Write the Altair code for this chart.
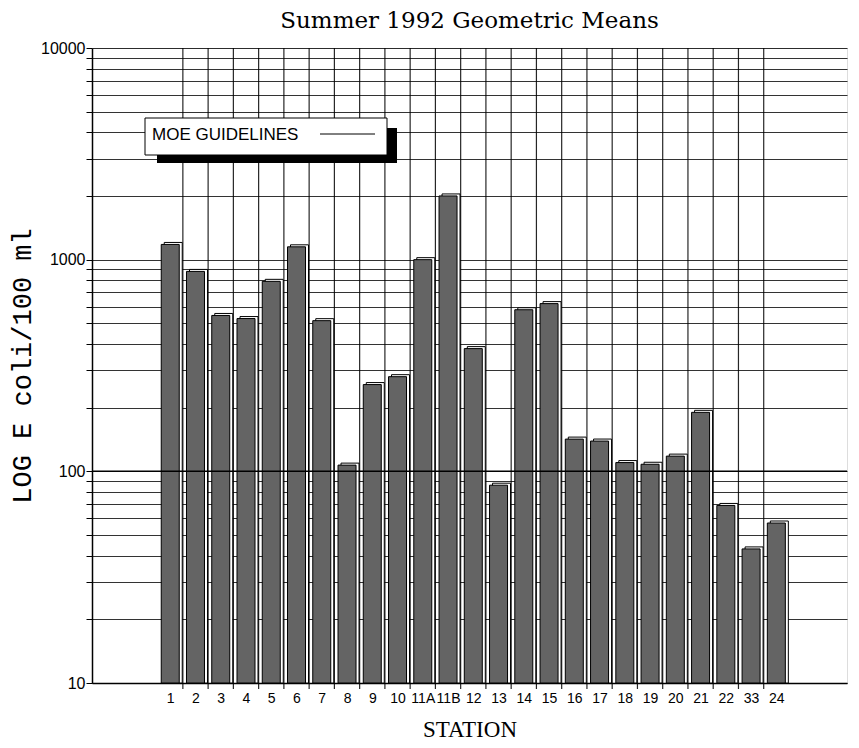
import altair as alt
import pandas as pd

stations = ["1", "2", "3", "4", "5", "6", "7", "8", "9", "10", "11A", "11B", "12",
            "13", "14", "15", "16", "17", "18", "19", "20", "21", "22", "33", "24"]
geo_means = [1180, 880, 545, 527, 790, 1150, 515, 107, 257, 280, 1000, 2000, 380,
             86, 580, 620, 142, 139, 110, 108, 118, 190, 69, 43, 57]
guideline = [100]
legend_label = ["MOE GUIDELINES"]
y_tick_values = [10, 20, 30, 40, 50, 60, 70, 80, 90,
                 100, 200, 300, 400, 500, 600, 700, 800, 900,
                 1000, 2000, 3000, 4000, 5000, 6000, 7000, 8000, 9000, 10000]
y_label_values = [10, 100, 1000, 10000]

df = pd.DataFrame({"station": stations, "idx": list(range(len(stations))),
                   "value": geo_means, "base": [10] * len(stations)})
bounds = pd.DataFrame({"b": [i + 0.5 for i in range(len(stations) - 1)]})
guide_df = pd.DataFrame({"g": guideline, "name": legend_label})

W, H = 755, 635
SERIF = "Liberation Serif"
SANS = "Liberation Sans"
MONO = "Liberation Mono"

xscale = alt.Scale(domain=[-2.9, 26.6], nice=False, zero=False)
yscale = alt.Scale(type="log", domain=[10, 10000], nice=False)

label_expr = "[" + ",".join("'" + s + "'" for s in stations) + "][datum.value]"
ylab_expr = ("indexof([" + ",".join(str(v) for v in y_label_values) +
             "], datum.value) >= 0 ? format(datum.value, 'd') : ''")

x_axis = alt.Axis(values=list(range(len(stations))), labelExpr=label_expr, ticks=False,
                  grid=False, title="STATION", titleFont=SERIF, titleFontSize=23,
                  titleFontWeight="normal", titleColor="black", titlePadding=13,
                  labelFont=SANS, labelFontSize=14, labelColor="black", labelPadding=8,
                  labelOverlap=False, domainColor="black", domainWidth=1.5)
y_axis = alt.Axis(values=y_tick_values, labelExpr=ylab_expr, tickSize=6, tickColor="black",
                  grid=True, gridColor="black", gridOpacity=0.8, gridWidth=1.2,
                  domainColor="black", domainWidth=1.5, labelFont=SANS, labelFontSize=16,
                  labelColor="black", labelPadding=1, title="LOG E coli/100 ml", titleFont=MONO,
                  titleFontSize=27, titleFontWeight="normal", titleColor="black",
                  titlePadding=4)

vgrid = alt.Chart(bounds).mark_rule(color="black", strokeWidth=1.2, opacity=0.85).encode(
    x=alt.X("b:Q", scale=xscale, axis=x_axis),
    y=alt.value(0), y2=alt.value(H + 6))

back = alt.Chart(df).mark_bar(size=18, fill="white", stroke="black", strokeWidth=1,
                              xOffset=3, yOffset=-2).encode(
    x=alt.X("idx:Q", scale=xscale, axis=x_axis),
    y=alt.Y("value:Q", scale=yscale, axis=y_axis),
    y2="base:Q")

front = alt.Chart(df).mark_bar(size=18, fill="#646464", stroke="black", strokeWidth=1).encode(
    x=alt.X("idx:Q", scale=xscale, axis=x_axis),
    y=alt.Y("value:Q", scale=yscale, axis=y_axis),
    y2="base:Q")

guide_rule = alt.Chart(guide_df).mark_rule(color="black", strokeWidth=1.5).encode(
    y=alt.Y("g:Q", scale=yscale, axis=y_axis))

shadow = alt.Chart(guide_df).mark_rect(fill="black").encode(
    x=alt.value(65), x2=alt.value(305), y=alt.value(80), y2=alt.value(115))
box = alt.Chart(guide_df).mark_rect(fill="white", stroke="black", strokeWidth=1).encode(
    x=alt.value(53), x2=alt.value(295), y=alt.value(70), y2=alt.value(107))
box_text = alt.Chart(guide_df).mark_text(align="left", baseline="middle", font=SANS,
                                         fontSize=17, color="black").encode(
    x=alt.value(60), y=alt.value(87), text="name:N")
box_line = alt.Chart(guide_df).mark_rule(color="black", strokeWidth=1).encode(
    x=alt.value(228), x2=alt.value(283), y=alt.value(86))

chart = alt.layer(vgrid, back, front, guide_rule, shadow, box, box_text, box_line).properties(
    width=W, height=H,
    padding={"left": 84, "top": 40, "right": 4, "bottom": 57},
    autosize=alt.AutoSizeParams(type="none"),
    title=alt.TitleParams("Summer 1992 Geometric Means", font="DejaVu Serif", fontSize=23,
                          fontWeight="normal", color="black", offset=7),
).configure_view(stroke="black", strokeWidth=1.5).configure(background="white")

chart.save("out.html", embed_options={"renderer": "svg", "actions": False})
